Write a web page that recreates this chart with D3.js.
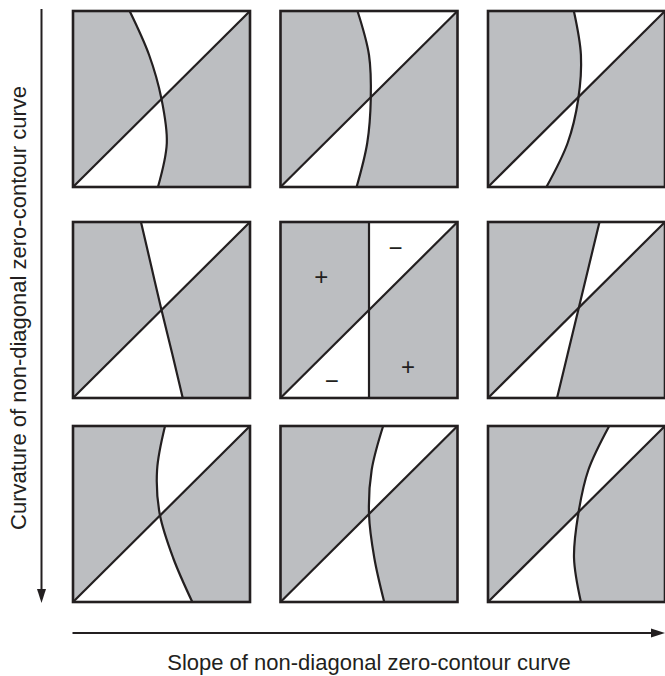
<!DOCTYPE html>
<html>
<head>
<meta charset="UTF-8" />
<script src="https://d3js.org/d3.v7.min.js"></script>
<style>
body { margin: 0; background: #fff; }
text { font-family: "Liberation Sans", Arial, sans-serif; fill: #231f20; }
</style>
</head>
<body>
<svg id="chart" width="665" height="676"></svg>
<script>
// rows: curvature (top -> bottom), cols: slope (left -> right)
const rows = ["concave", "straight", "convex"];
const cols = ["left", "vertical", "right"];

// zero-contour curve, x as fraction of panel width, sampled at these t (0 = top, 1 = bottom)
const curveT = [0, 0.25, 0.5, 0.75, 1];
const curveX = [
  [0.32, 0.43, 0.50, 0.53, 0.48],
  [0.435, 0.50, 0.51, 0.49, 0.43],
  [0.485, 0.525, 0.51, 0.45, 0.33],
  [0.384, 0.442, 0.50, 0.561, 0.62],
  [0.50, 0.50, 0.50, 0.50, 0.50],
  [0.63, 0.57, 0.51, 0.45, 0.39],
  [0.52, 0.475, 0.49, 0.566, 0.674],
  [0.58, 0.515, 0.50, 0.53, 0.586],
  [0.685, 0.567, 0.51, 0.486, 0.525]
];

// sign labels for the middle panel
const signs = [
  {s: "+", x: 0.23, y: 0.31},
  {s: "\u2212", x: 0.65, y: 0.145},
  {s: "+", x: 0.72, y: 0.82},
  {s: "\u2212", x: 0.29, y: 0.9}
];

const xLabel = "Slope of non-diagonal zero-contour curve";
const yLabel = "Curvature of non-diagonal zero-contour curve";

const gray = "#bcbec1";
const ink = "#231f20";
const size = 177;

const svg = d3.select("#chart");

const colX = d3.scaleOrdinal().domain(cols).range([73, 280.5, 488]);
const rowY = d3.scaleOrdinal().domain(rows).range([11, 222, 426]);

const fx = d3.scaleLinear().domain([0, 1]).range([0, size]);
const fy = d3.scaleLinear().domain([0, 1]).range([0, size - 1]);

const defs = svg.append("defs");
defs.append("clipPath").attr("id", "upper")
  .append("path").attr("d", `M${fx(0)},${fy(0)}L${fx(1)},${fy(0)}L${fx(0)},${fy(1)}Z`);
defs.append("clipPath").attr("id", "lower")
  .append("path").attr("d", `M${fx(1)},${fy(0)}L${fx(1)},${fy(1)}L${fx(0)},${fy(1)}Z`);

const line = d3.line()
  .x(d => fx(d[1]))
  .y(d => fy(d[0]))
  .curve(d3.curveCatmullRom.alpha(0.5));

rows.forEach((r, ri) => {
  cols.forEach((c, ci) => {
    const pts = curveT.map((t, i) => [t, curveX[ri * 3 + ci][i]]);
    const g = svg.append("g").attr("transform", `translate(${colX(c)},${rowY(r)})`);
    const cpath = line(pts);

    g.append("rect").attr("width", fx(1)).attr("height", fy(1)).attr("fill", "#fff");
    // left of curve, above diagonal
    g.append("path")
      .attr("d", cpath + `L${fx(0)},${fy(1)}L${fx(0)},${fy(0)}Z`)
      .attr("fill", gray).attr("clip-path", "url(#upper)");
    // right of curve, below diagonal
    g.append("path")
      .attr("d", cpath + `L${fx(1)},${fy(1)}L${fx(1)},${fy(0)}Z`)
      .attr("fill", gray).attr("clip-path", "url(#lower)");

    g.append("path").attr("d", cpath)
      .attr("fill", "none").attr("stroke", ink).attr("stroke-width", 2.2);
    g.append("line")
      .attr("x1", fx(0)).attr("y1", fy(1)).attr("x2", fx(1)).attr("y2", fy(0))
      .attr("stroke", ink).attr("stroke-width", 2.2);
    g.append("rect").attr("width", fx(1)).attr("height", fy(1))
      .attr("fill", "none").attr("stroke", ink).attr("stroke-width", 2.6);

    if (ri === 1 && ci === 1) {
      g.selectAll("text.sign").data(signs).join("text")
        .attr("class", "sign")
        .attr("x", d => fx(d.x)).attr("y", d => fy(d.y))
        .attr("text-anchor", "middle").attr("dominant-baseline", "central")
        .attr("font-size", 24)
        .text(d => d.s);
    }
  });
});

// axis arrows
function arrow(x1, y1, x2, y2) {
  const a = Math.atan2(y2 - y1, x2 - x1);
  const L = 14, W = 4.5;
  const bx = x2 - L * Math.cos(a), by = y2 - L * Math.sin(a);
  svg.append("line").attr("x1", x1).attr("y1", y1).attr("x2", bx).attr("y2", by)
    .attr("stroke", ink).attr("stroke-width", 2);
  svg.append("path")
    .attr("d", `M${x2},${y2}L${bx + W * Math.sin(a)},${by - W * Math.cos(a)}L${bx - W * Math.sin(a)},${by + W * Math.cos(a)}Z`)
    .attr("fill", ink);
}
arrow(41.5, 9, 41.5, 603);
arrow(72.5, 633, 665, 633);

svg.append("text")
  .attr("x", 369).attr("y", 670)
  .attr("text-anchor", "middle").attr("font-size", 22)
  .text(xLabel);

svg.append("text")
  .attr("transform", "translate(25.5,308) rotate(-90)")
  .attr("text-anchor", "middle").attr("font-size", 22)
  .text(yLabel);
</script>
</body>
</html>
